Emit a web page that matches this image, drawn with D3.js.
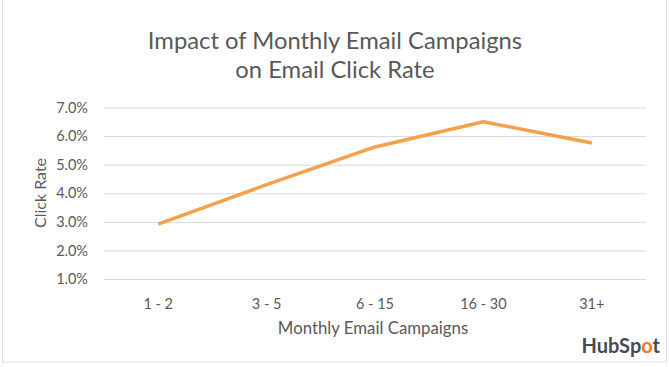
<!DOCTYPE html>
<html><head><meta charset="utf-8">
<script src="https://cdn.jsdelivr.net/npm/d3@7"></script>
<style>body{margin:0;background:#fff;} text{font-family:Lato,"Open Sans",sans-serif;}</style>
</head><body>
<svg id="c" width="669" height="367"></svg>
<script>
const categories = ["1 - 2", "3 - 5", "6 - 15", "16 - 30", "31+"];
const clickRate = [2.92, 4.3, 5.62, 6.5, 5.76];
const yTicks = [1, 2, 3, 4, 5, 6, 7];
const titleLines = ["Impact of Monthly Email Campaigns", "on Email Click Rate"];

(function () {
const svg = d3.select("#c");
svg.append("rect").attr("x", 2.5).attr("y", -1).attr("width", 664).attr("height", 363)
  .attr("fill", "#fff").attr("stroke", "#dedede");

const pL = 104, pR = 646, pT = 107.5, pB = 279;
const x = d3.scaleBand().domain(categories).range([pL, pR]);
const y = d3.scaleLinear().domain([1, 7]).range([pB, pT]);

const yAxis = d3.axisLeft(y).tickValues(yTicks).tickSize(-(pR - pL)).tickPadding(10)
  .tickFormat(d => d.toFixed(1) + "%");
const gy = svg.append("g").attr("transform", `translate(${pL},0)`).call(yAxis);
gy.select(".domain").remove();
gy.selectAll(".tick line").attr("stroke", "#d9d9d9").attr("stroke-width", 1);
gy.selectAll(".tick text").attr("fill", "#595959").style("font-size", "14.5px").attr("x", -16);

const xAxis = d3.axisBottom(x).tickSize(0).tickPadding(20);
const gx = svg.append("g").attr("transform", `translate(0,${pB})`).call(xAxis);
gx.select(".domain").remove();
gx.selectAll(".tick text").attr("fill", "#595959").style("font-size", "14.5px");

const line = d3.line().x((d, i) => x(categories[i]) + x.bandwidth() / 2).y(d => y(d));
svg.append("path").datum(clickRate).attr("d", line).attr("fill", "none")
  .attr("stroke", "#F5A04A").attr("stroke-width", 3.5).attr("stroke-linejoin", "round");

svg.append("text").attr("x", 335).attr("y", 49).attr("text-anchor", "middle")
  .attr("fill", "#595959").style("font-size", "23.8px").text(titleLines[0]);
svg.append("text").attr("x", 335).attr("y", 78).attr("text-anchor", "middle")
  .attr("fill", "#595959").style("font-size", "23.8px").text(titleLines[1]);

svg.append("text").attr("transform", "translate(46,193) rotate(-90)").attr("text-anchor", "middle")
  .attr("fill", "#595959").style("font-size", "16px").text("Click Rate");
svg.append("text").attr("x", 373).attr("y", 334).attr("text-anchor", "middle")
  .attr("fill", "#595959").style("font-size", "16.8px").text("Monthly Email Campaigns");

const logo = svg.append("text").attr("x", 660).attr("y", 353).attr("text-anchor", "end")
  .style("font-size", "20px").style("font-weight", "bold").attr("fill", "#454c55");
logo.append("tspan").text("HubSp");
logo.append("tspan").attr("fill", "#f57722").text("o");
logo.append("tspan").text("t");
})();
</script>
</body></html>
